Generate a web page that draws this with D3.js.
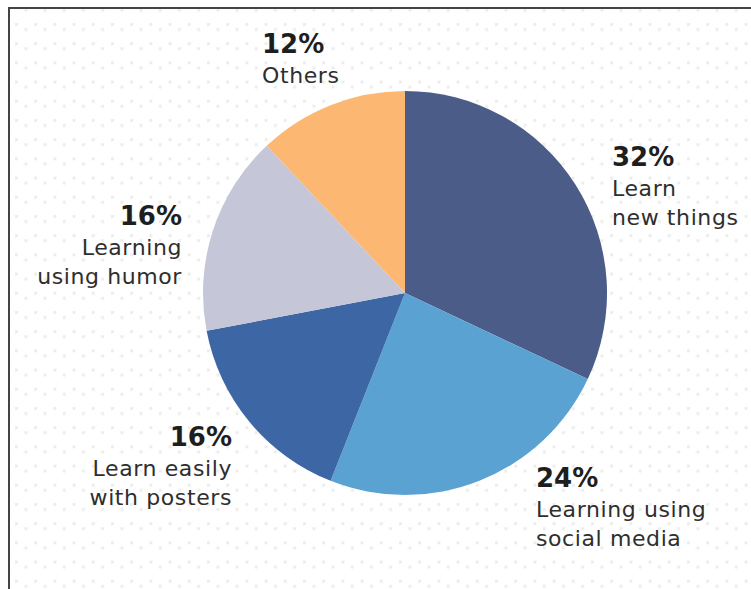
<!DOCTYPE html>
<html>
<head>
<meta charset="utf-8">
<script src="https://cdn.jsdelivr.net/npm/d3@7"></script>
<style>
  html, body { margin: 0; padding: 0; background: #fff; }
  svg { display: block; }
</style>
</head>
<body>
<div id="chart"></div>
<script>
// slice data, clockwise from 12 o'clock
const categories = ["Learn new things", "Learning using social media", "Learn easily with posters", "Learning using humor", "Others"];
const values = [32, 24, 16, 16, 12];
const labelLines = [
  ["Learn", "new things"],
  ["Learning using", "social media"],
  ["Learn easily", "with posters"],
  ["Learning", "using humor"],
  ["Others"]
];
const colors = ["#4a5c87", "#5aa2d2", "#3d66a4", "#c5c6d7", "#fcb872"];

const width = 751, height = 589;
const cx = 405, cy = 293, radius = 202;

// where each label block sits, relative to the pie centre
const labelPos = [
  { dx: 207, dy: -127, anchor: "start" },
  { dx: 131, dy: 194, anchor: "start" },
  { dx: -173, dy: 153, anchor: "end" },
  { dx: -223, dy: -68, anchor: "end" },
  { dx: -143, dy: -240, anchor: "start" }
];

const svg = d3.select("#chart")
  .append("svg")
  .attr("width", width)
  .attr("height", height);

// dotted background
const defs = svg.append("defs");
const pat = defs.append("pattern")
  .attr("id", "dots")
  .attr("patternUnits", "userSpaceOnUse")
  .attr("x", 15).attr("y", 23)
  .attr("width", 19.2).attr("height", 19.2);
pat.append("rect").attr("x", 0).attr("y", 0).attr("width", 3).attr("height", 3).attr("fill", "#ededed");
pat.append("rect").attr("x", 9.3).attr("y", 5).attr("width", 3).attr("height", 3).attr("fill", "#ededed");

svg.append("rect")
  .attr("x", 10).attr("y", 9)
  .attr("width", width - 10).attr("height", height - 9)
  .attr("fill", "url(#dots)");

// frame (left and top edges only are visible)
svg.append("rect").attr("x", 8).attr("y", 7).attr("width", 2).attr("height", height - 7).attr("fill", "#444");
svg.append("rect").attr("x", 8).attr("y", 7).attr("width", width - 8).attr("height", 2).attr("fill", "#444");

const data = categories.map((c, i) => ({ name: c, value: values[i], lines: labelLines[i] }));

const pie = d3.pie().sort(null).value(d => d.value);
const arc = d3.arc().innerRadius(0).outerRadius(radius);

const g = svg.append("g").attr("transform", `translate(${cx},${cy})`);

g.selectAll("path")
  .data(pie(data))
  .enter()
  .append("path")
  .attr("d", arc)
  .attr("fill", (d, i) => colors[i]);

// labels
const labels = g.selectAll(".label")
  .data(data)
  .enter()
  .append("text")
  .attr("class", "label")
  .attr("text-anchor", (d, i) => labelPos[i].anchor)
  .attr("transform", (d, i) => `translate(${labelPos[i].dx},${labelPos[i].dy})`)
  .style("font-family", "'DejaVu Sans', sans-serif");

labels.append("tspan")
  .attr("x", 0)
  .attr("y", 0)
  .attr("font-size", "26px")
  .attr("font-weight", "bold")
  .attr("fill", "#1e1e1e")
  .text(d => d.value + "%");

labels.each(function (d) {
  const t = d3.select(this);
  d.lines.forEach((line, j) => {
    t.append("tspan")
      .attr("x", 0)
      .attr("y", 30 + j * 28.5)
      .attr("font-size", "22px")
      .attr("letter-spacing", "0.6px")
      .attr("fill", "#2e2e2e")
      .text(line);
  });
});
</script>
</body>
</html>
